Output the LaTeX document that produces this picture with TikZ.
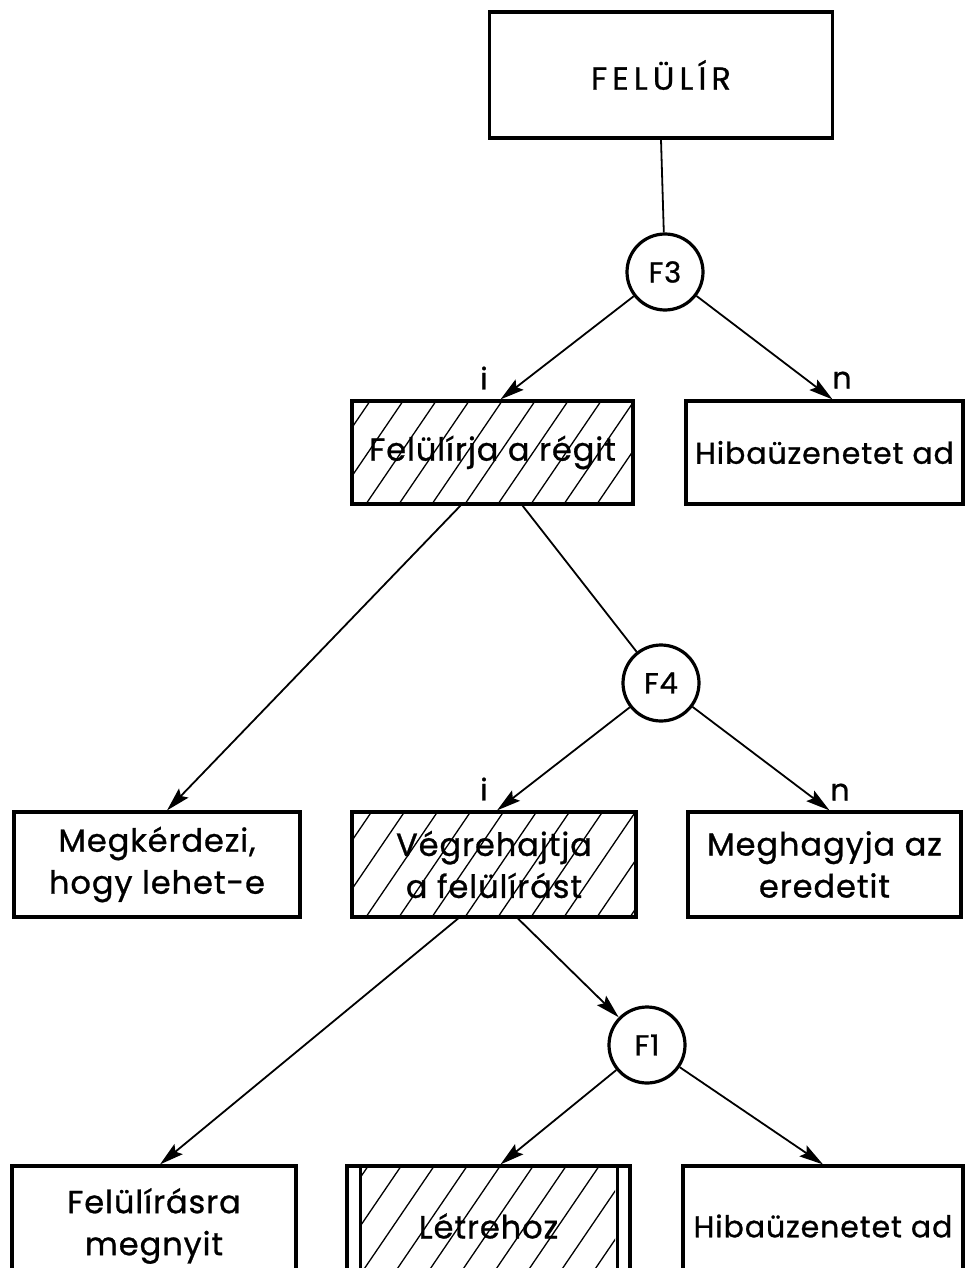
\documentclass[tikz,border=0pt]{standalone}
\usepackage{fontspec}
\setmainfont{Poppins}[FakeBold=0.9, LetterSpace=3]
\usetikzlibrary{arrows.meta}

\tikzset{
  box/.style={draw, line width=3.2pt, rectangle, inner sep=0pt, align=center,
              font=\fontsize{32}{42}\selectfont},
  narrowtext/.style={font=\fontsize{30}{40}\selectfont},
  decision/.style={draw, line width=3.2pt, circle, minimum size=76pt, inner sep=0pt,
                   font=\fontsize{29}{32}\selectfont},
  link/.style={line width=1.8pt},
  arrowlink/.style={line width=1.8pt, -{Stealth[length=24pt,width=13pt,inset=4pt]}},
  branch/.style={font=\fontsize{30}{32}\selectfont, inner sep=0pt},
  hatchline/.style={line width=1.3pt},
}

% diagonal hatching inside the rectangle (x1,y1)-(x2,y2)
\newcommand\hatcharea[4]{%
  \begin{scope}
    \clip (#1,#2) rectangle (#3,#4);
    \pgfmathsetmacro\hh{#4-#2}
    \foreach \s in {-250,-217,...,320}{
      \draw[hatchline] ({#1+\s},#4) -- ({#1+\s+0.68*\hh},#2);
    }
  \end{scope}}

\begin{document}
\begin{tikzpicture}[x=1pt,y=-1pt]
  \clip (0,0) rectangle (967,1268);
  \fill[white] (0,0) rectangle (967,1268);

  % hatched fills
  \hatcharea{352}{401}{633}{504}
  \hatcharea{352}{812}{636}{917}
  \hatcharea{362}{1166}{615}{1300}

  % boxes
  \node[box, minimum width=343pt, minimum height=126pt] (top) at (661,75) {\addfontfeature{LetterSpace=16}FELÜLÍR};
  \node[decision] (F3) at (665,272) {F3};
  \node[box, minimum width=281pt, minimum height=103pt] (fel) at (492.5,452.5) {Felülírja a régit};
  \node[box, narrowtext, minimum width=277pt, minimum height=103pt] (hib1) at (824.5,452.5) {Hibaüzenetet ad};
  \node[decision] (F4) at (661,683) {F4};
  \node[box, minimum width=286pt, minimum height=105pt] (meg) at (157,864.5) {Megkérdezi,\\hogy lehet-e};
  \node[box, minimum width=284pt, minimum height=105pt] (veg) at (494,864.5) {Végrehajtja\\a felülírást};
  \node[box, minimum width=273pt, minimum height=105pt] (megh) at (824.5,864.5) {Meghagyja az\\eredetit};
  \node[decision] (F1) at (647,1045) {F1};
  \node[box, minimum width=284pt, minimum height=120pt] (felm) at (154,1226) {Felülírásra\\megnyit};
  \node[box, minimum width=283pt, minimum height=120pt] (letr) at (488.5,1226) {Létrehoz};
  \node[box, narrowtext, minimum width=280pt, minimum height=120pt] (hib2) at (823,1226) {Hibaüzenetet ad};

  % inner side rules of the double-framed box
  \draw[line width=3.2pt] ([xshift=15pt]letr.north west) -- ([xshift=15pt]letr.south west);
  \draw[line width=3.2pt] ([xshift=-14pt]letr.north east) -- ([xshift=-14pt]letr.south east);

  % connectors
  \draw[link] (top.south) -- (F3);
  \draw[arrowlink] (F3) -- ([xshift=8pt]fel.north);
  \draw[arrowlink] (F3) -- ([xshift=8pt]hib1.north);
  \draw[link] ([xshift=30pt]fel.south) -- (F4);
  \draw[arrowlink] ([xshift=-32pt]fel.south) -- ([xshift=10pt]meg.north);
  \draw[arrowlink] (F4) -- ([xshift=3pt]veg.north);
  \draw[arrowlink] (F4) -- ([xshift=5pt]megh.north);
  \draw[arrowlink] ([xshift=24pt]veg.south) -- (F1);
  \draw[arrowlink] ([xshift=-36pt]veg.south) -- ([xshift=6pt]felm.north);
  \draw[arrowlink] (F1) -- ([xshift=12pt]letr.north);
  \draw[arrowlink] (F1) -- (hib2.north);

  % branch labels
  \node[branch] (i1) at (484,378) {i};
  \node[branch] (n1) at (842,380) {n};
  \node[branch] (i2) at (484,789) {i};
  \node[branch] (n2) at (840,792) {n};
\end{tikzpicture}
\end{document}
